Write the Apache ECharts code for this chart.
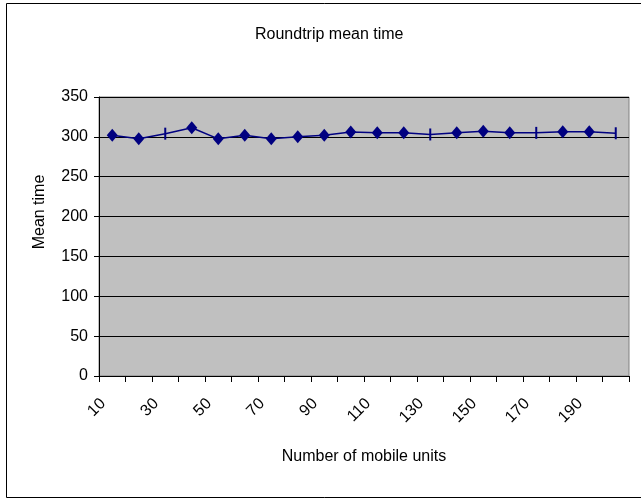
<!DOCTYPE html>
<html>
<head>
<meta charset="utf-8">
<script src="https://cdn.jsdelivr.net/npm/echarts@6/dist/echarts.min.js"></script>
<style>html,body{margin:0;padding:0;background:#fff}#c{width:641px;height:499px}</style>
</head>
<body>
<div id="c"></div>
<script>
var categories = ['10','20','30','40','50','60','70','80','90','100','110','120','130','140','150','160','170','180','190','200'];
var meanTime = [302, 297.5, 304, 311.5, 297.5, 302, 297.5, 300, 302, 306, 305, 305, 303, 305, 307, 305, 305, 306.5, 306.5, 304.5];
var dashPoints = ['30', '130', '170', '200'];
var yTicks = { min: 0, max: 350, interval: 50 };

var font = 'Liberation Sans, Arial, sans-serif';
var seriesData = meanTime.map(function (v, i) {
  var isDash = dashPoints.indexOf(categories[i]) >= 0;
  return isDash ? { value: v, symbol: 'rect', symbolSize: [2, 12] } : { value: v };
});

var chart = echarts.init(document.getElementById('c'), null, { renderer: 'canvas' });
chart.setOption({
  animation: false,
  backgroundColor: '#fff',
  title: {
    text: 'Roundtrip mean time',
    left: 250,
    top: 22,
    textStyle: { fontFamily: font, fontSize: 16, fontWeight: 'normal', color: '#000' }
  },
  graphic: [{
    type: 'rect',
    shape: { x: 6.5, y: 3.5, width: 660, height: 494 },
    style: { fill: null, stroke: '#000', lineWidth: 1 },
    silent: true
  }],
  grid: {
    left: 99, top: 97, right: 12, bottom: 123,
    show: true, backgroundColor: '#C0C0C0', borderColor: '#808080', borderWidth: 1
  },
  xAxis: {
    type: 'category',
    data: categories,
    boundaryGap: true,
    name: 'Number of mobile units',
    nameLocation: 'middle',
    nameGap: 73,
    nameTextStyle: { fontFamily: font, fontSize: 16, color: '#000' },
    axisLine: { lineStyle: { color: '#000', width: 1 } },
    axisTick: { show: true, length: 6, interval: 0, lineStyle: { color: '#000' } },
    axisLabel: {
      interval: 1, rotate: 45, margin: 16,
      padding: [0, 13, 0, 0],
      fontFamily: font, fontSize: 16, color: '#000'
    },
    splitLine: { show: false }
  },
  yAxis: {
    type: 'value',
    min: yTicks.min, max: yTicks.max, interval: yTicks.interval,
    name: 'Mean time',
    nameLocation: 'middle',
    nameGap: 51,
    nameTextStyle: { fontFamily: font, fontSize: 16, color: '#000', padding: [0, 0, 0, 49] },
    axisLine: { show: true, lineStyle: { color: '#000', width: 1 } },
    axisTick: { show: true, length: 5, lineStyle: { color: '#000' } },
    axisLabel: { margin: 11, fontFamily: font, fontSize: 16, color: '#000' },
    splitLine: { show: true, lineStyle: { color: '#000', width: 1 } }
  },
  series: [{
    type: 'line',
    data: seriesData,
    symbol: 'diamond',
    symbolSize: [11, 13],
    showAllSymbol: true,
    lineStyle: { color: '#000080', width: 1.5 },
    itemStyle: { color: '#000080' }
  }]
});
</script>
</body>
</html>
